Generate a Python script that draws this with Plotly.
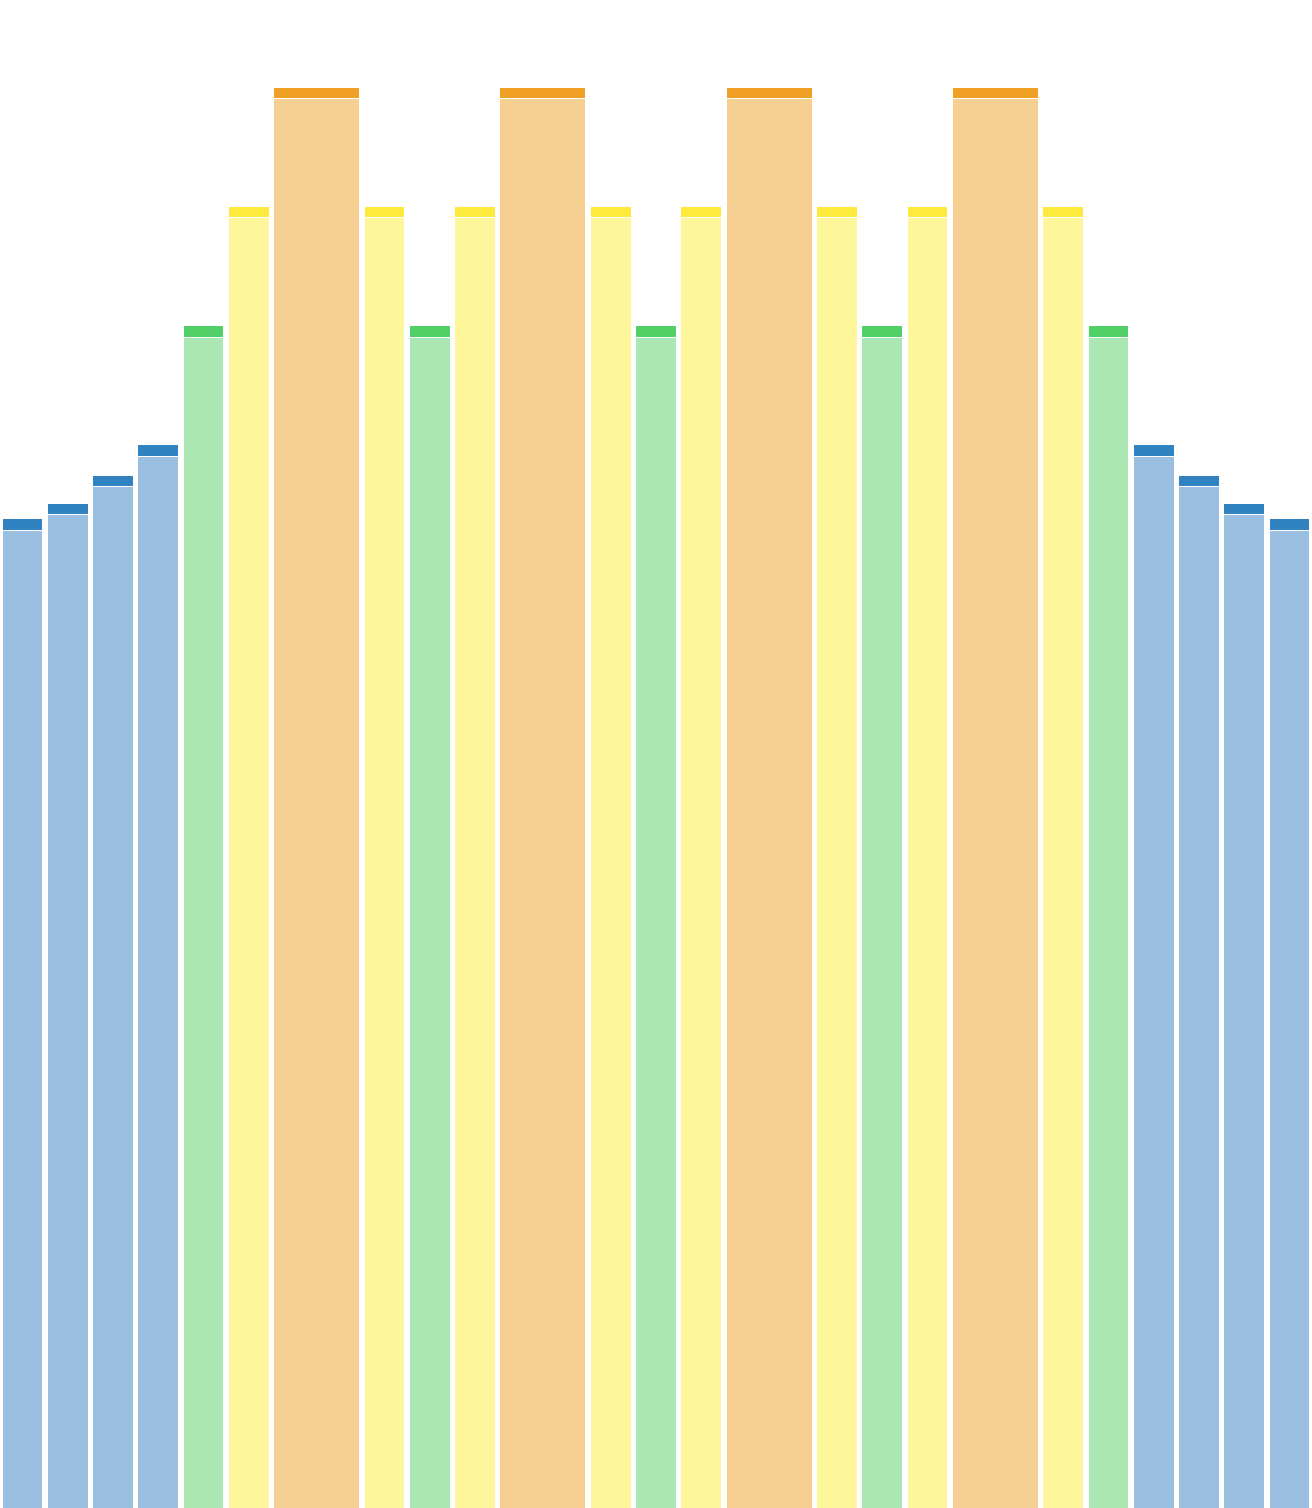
import plotly.graph_objects as go

# data
categories = [f"B{i}" for i in range(1, 26)]
groups = ["blue", "blue", "blue", "blue", "green", "yellow", "orange", "yellow",
          "green", "yellow", "orange", "yellow", "green", "yellow", "orange", "yellow",
          "green", "yellow", "orange", "yellow", "green", "blue", "blue", "blue", "blue"]
widths = [1, 1, 1, 1, 1, 1, 2, 1, 1, 1, 2, 1, 1, 1, 2, 1, 1, 1, 2, 1, 1, 1, 1, 1, 1]
totals = [65.6, 66.6, 68.5, 70.5, 78.4, 86.3, 94.2, 86.3, 78.4, 86.3, 94.2, 86.3, 78.4,
          86.3, 94.2, 86.3, 78.4, 86.3, 94.2, 86.3, 78.4, 70.5, 68.5, 66.6, 65.6]
cap = 0.75

body_colors = {"blue": "#9bbfe0", "green": "#abe7b3", "yellow": "#fdf69b", "orange": "#f6d092"}
cap_colors = {"blue": "#3182c1", "green": "#52d068", "yellow": "#fdea3c", "orange": "#f0a024"}

# positions from widths
centers = []
pos = 0.0
for w in widths:
    centers.append(pos + w / 2)
    pos += w
bar_w = [w - 0.1 for w in widths]

fig = go.Figure()
fig.add_trace(go.Bar(
    x=centers, y=[t - cap for t in totals], width=bar_w,
    marker=dict(color=[body_colors[g] for g in groups], line=dict(color="white", width=1)),
    text=categories, textposition="none", hoverinfo="text+y", showlegend=False))
fig.add_trace(go.Bar(
    x=centers, y=[cap] * len(totals), width=bar_w,
    marker=dict(color=[cap_colors[g] for g in groups], line=dict(color="white", width=1)),
    hoverinfo="skip", showlegend=False))

fig.update_layout(
    barmode="stack", width=1312, height=1508,
    margin=dict(l=0, r=0, t=0, b=0),
    paper_bgcolor="white", plot_bgcolor="white",
    xaxis=dict(range=[0, pos], visible=False),
    yaxis=dict(range=[0, 100], visible=False),
)
fig.write_html("out.html", config={"displayModeBar": False},
               post_script="document.body.style.margin='0';")
